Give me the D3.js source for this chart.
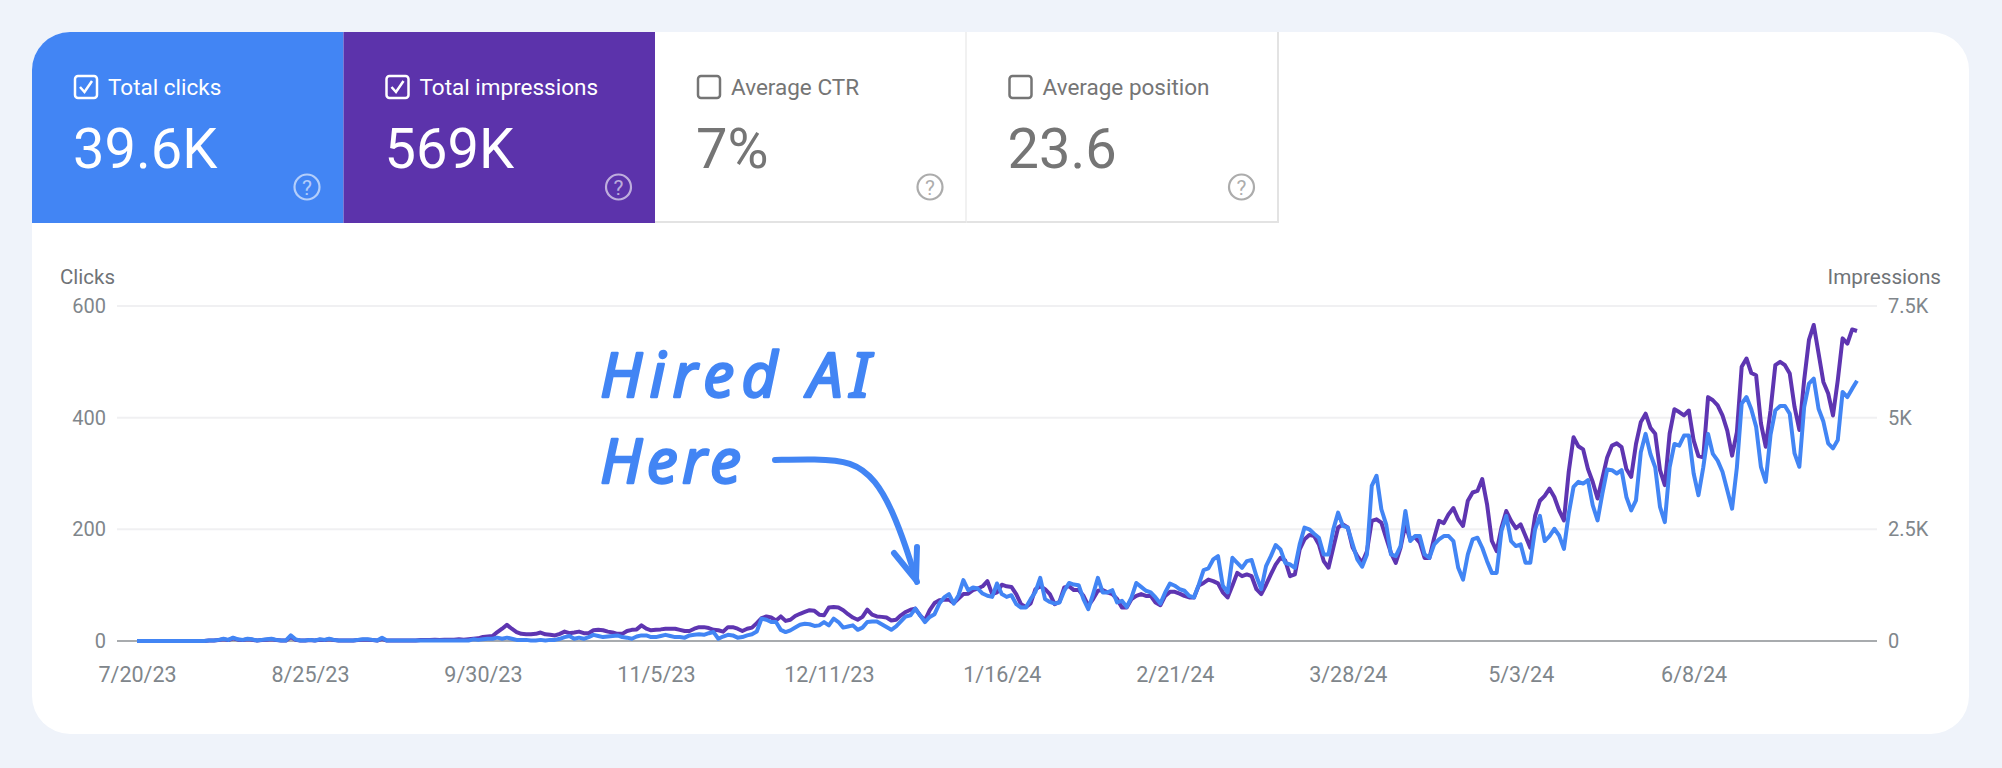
<!DOCTYPE html>
<html>
<head>
<meta charset="utf-8">
<script src="https://cdn.jsdelivr.net/npm/d3@7"></script>
<style>
  html, body { margin: 0; padding: 0; background: #eff3fa; }
  svg { display: block; font-family: Roboto, sans-serif; }
</style>
</head>
<body>
<svg id="chart" width="2002" height="768"></svg>
<script>
const tileLabels = ['Total clicks', 'Total impressions', 'Average CTR', 'Average position'];
const tileValues = ['39.6K', '569K', '7%', '23.6'];
const tileFills = ['#4285f4', '#5c33ab', '#ffffff', '#ffffff'];
const tileChecked = [true, true, false, false];

const startDate = '7/20/23';
const dateLabels = ['7/20/23', '8/25/23', '9/30/23', '11/5/23', '12/11/23', '1/16/24', '2/21/24', '3/28/24', '5/3/24', '6/8/24'];
const clickTicks = [0, 200, 400, 600];
const impressionTicks = [0, 2500, 5000, 7500];
const impressionTickLabels = ['0', '2.5K', '5K', '7.5K'];

// one value per day, ten to a row
const clicks = [
  0, 0, 0, 0, 0, 0, 0, 0, 0, 0,
  0, 0, 0, 0, 0, 1, 1, 2, 4, 2,
  6, 3, 2, 4, 3, 1, 2, 3, 4, 2,
  1, 1, 10, 3, 1, 1, 2, 1, 3, 2,
  4, 2, 1, 1, 1, 1, 2, 3, 3, 2,
  1, 6, 1, 1, 1, 1, 1, 1, 1, 1,
  1, 1, 1, 1, 1, 1, 1, 1, 1, 1,
  3, 2, 3, 4, 4, 6, 4, 6, 4, 2,
  2, 2, 1, 1, 2, 1, 2, 2, 4, 7,
  9, 4, 6, 4, 7, 11, 9, 7, 8, 9,
  10, 7, 6, 4, 8, 10, 10, 7, 7, 9,
  11, 9, 7, 7, 6, 10, 11, 12, 11, 14,
  16, 4, 8, 11, 10, 6, 7, 10, 12, 17,
  40, 38, 34, 34, 20, 16, 19, 24, 29, 31,
  30, 27, 28, 34, 28, 40, 34, 24, 26, 28,
  20, 24, 34, 35, 35, 30, 25, 20, 26, 35,
  44, 46, 58, 46, 34, 43, 48, 67, 78, 84,
  67, 82, 109, 91, 96, 94, 85, 81, 79, 103,
  84, 79, 82, 66, 60, 60, 75, 88, 113, 75,
  70, 67, 69, 90, 104, 101, 100, 75, 57, 84,
  113, 87, 87, 91, 69, 72, 61, 78, 104, 97,
  90, 87, 78, 67, 87, 103, 99, 93, 90, 81,
  78, 101, 127, 130, 146, 152, 99, 87, 149, 140,
  131, 143, 145, 116, 93, 134, 152, 172, 164, 140,
  137, 131, 173, 203, 200, 192, 185, 155, 155, 200,
  230, 206, 203, 174, 146, 133, 155, 278, 296, 236,
  209, 155, 152, 170, 233, 179, 188, 188, 155, 149,
  173, 182, 188, 188, 179, 131, 110, 155, 182, 185,
  167, 143, 122, 122, 197, 224, 179, 170, 173, 140,
  140, 200, 224, 179, 188, 201, 189, 165, 228, 276,
  285, 282, 288, 243, 216, 264, 307, 306, 300, 306,
  258, 234, 252, 338, 371, 335, 311, 240, 213, 311,
  353, 350, 368, 368, 300, 261, 311, 371, 335, 323,
  303, 270, 237, 311, 425, 437, 415, 384, 312, 285,
  369, 413, 421, 421, 407, 336, 312, 419, 461, 470,
  416, 393, 354, 345, 360, 446, 437, 452, 466
];
const impressions = [
  0, 0, 0, 0, 0, 0, 0, 0, 0, 0,
  0, 0, 0, 0, 0, 10, 10, 20, 40, 20,
  60, 30, 20, 40, 30, 10, 20, 30, 40, 20,
  10, 10, 90, 30, 10, 10, 20, 10, 30, 20,
  40, 20, 10, 10, 10, 10, 20, 30, 30, 20,
  10, 50, 10, 10, 10, 10, 10, 10, 10, 20,
  20, 20, 30, 20, 30, 30, 30, 40, 30, 40,
  50, 60, 90, 100, 110, 200, 275, 360, 275, 200,
  160, 150, 150, 160, 190, 150, 140, 125, 160, 210,
  175, 190, 210, 175, 175, 240, 250, 240, 210, 190,
  160, 160, 225, 250, 260, 350, 275, 240, 250, 260,
  275, 275, 275, 250, 225, 225, 275, 310, 310, 290,
  250, 240, 210, 310, 310, 275, 225, 275, 300, 400,
  510, 550, 525, 460, 550, 450, 475, 560, 610, 650,
  690, 675, 590, 575, 750, 760, 750, 690, 600, 525,
  475, 540, 700, 590, 550, 540, 525, 460, 475, 575,
  650, 700, 725, 575, 460, 690, 850, 910, 925, 925,
  850, 950, 1050, 1060, 1140, 1175, 1225, 1340, 1050, 1090,
  1260, 1225, 1210, 1050, 825, 760, 840, 1160, 1225, 1160,
  1050, 825, 875, 1200, 1225, 1140, 1140, 1010, 790, 940,
  1125, 1140, 1090, 1050, 940, 750, 750, 940, 1010, 1050,
  1010, 1010, 860, 800, 1010, 1100, 1100, 1060, 1010, 975,
  975, 1240, 1300, 1375, 1340, 1290, 1090, 975, 1240, 1525,
  1450, 1490, 1450, 1160, 1050, 1260, 1490, 1710, 1860, 1800,
  1450, 1490, 2050, 2275, 2375, 2350, 2160, 1790, 1640, 2090,
  2540, 2610, 2540, 2100, 1900, 1750, 2010, 2690, 2725, 2650,
  2310, 1975, 1750, 2090, 2610, 2275, 2325, 2200, 1860, 1860,
  2310, 2690, 2640, 2840, 2975, 2725, 2575, 3140, 3325, 3360,
  3625, 3060, 2240, 2010, 2540, 2910, 2690, 2525, 2610, 2350,
  2090, 2800, 3140, 3250, 3410, 3225, 2925, 2700, 3790, 4560,
  4360, 4290, 3850, 3560, 3190, 3640, 4110, 4375, 4425, 4340,
  3850, 3675, 4410, 4900, 5090, 4775, 4640, 3825, 3490, 4640,
  5190, 5125, 5050, 5160, 4490, 4140, 4110, 5460, 5390, 5275,
  5050, 4710, 4150, 4675, 6140, 6325, 6000, 5950, 4875, 4350,
  5160, 6175, 6250, 6175, 5990, 5240, 4725, 5840, 6740, 7075,
  6440, 5800, 5540, 5050, 5840, 6775, 6660, 6975, 6940
];

const blue = '#4285f4';
const purple = '#5e35b1';
const grey = '#80868b';

const svg = d3.select('#chart');
const parseDate = d3.utcParse('%m/%d/%y');
const start = parseDate(startDate);
const dates = clicks.map((d, i) => d3.utcDay.offset(start, i));

const x = d3.scaleUtc().domain([start, dates[dates.length - 1]]).range([137, 1857]);
const yClicks = d3.scaleLinear().domain([0, 600]).range([641, 306]);
const yImpressions = d3.scaleLinear().domain([0, 7500]).range([641, 306]);

// card
svg.append('clipPath').attr('id', 'card-clip')
  .append('rect').attr('x', 32).attr('y', 32).attr('width', 1937).attr('height', 702).attr('rx', 38);
svg.append('rect').attr('x', 32).attr('y', 32).attr('width', 1937).attr('height', 702)
  .attr('rx', 38).attr('fill', '#fff');

// metric tiles
const tileWidth = 311.5;
const tile = svg.append('g').attr('clip-path', 'url(#card-clip)')
  .selectAll('g').data(tileLabels).enter().append('g')
  .attr('transform', (d, i) => `translate(${32 + i * tileWidth},32)`);

tile.append('rect')
  .attr('width', tileWidth).attr('height', 191)
  .attr('fill', (d, i) => tileFills[i]);
tile.filter((d, i) => !tileChecked[i]).append('path')
  .attr('d', `M${tileWidth} 0 V190 H0`)
  .attr('fill', 'none').attr('stroke', '#e3e3e3').attr('stroke-width', 2);

const tileColor = i => tileChecked[i] ? '#fff' : '#757575';

tile.append('rect')
  .attr('x', 43).attr('y', 44).attr('width', 22).attr('height', 22).attr('rx', 3)
  .attr('fill', 'none').attr('stroke', (d, i) => tileColor(i)).attr('stroke-width', 2.5);
tile.filter((d, i) => tileChecked[i]).append('path')
  .attr('d', 'M48 55 L52.5 60 L60 49')
  .attr('fill', 'none').attr('stroke', '#fff').attr('stroke-width', 2.5);

tile.append('text')
  .attr('x', 76).attr('y', 63)
  .attr('font-size', 22.5).attr('fill', (d, i) => tileColor(i))
  .text(d => d);
tile.append('text')
  .attr('x', 41).attr('y', 136)
  .attr('font-size', 56).attr('fill', (d, i) => tileColor(i))
  .text((d, i) => tileValues[i]);

tile.append('circle')
  .attr('cx', 275).attr('cy', 155).attr('r', 12.5)
  .attr('fill', 'none').attr('stroke', (d, i) => tileColor(i))
  .attr('stroke-opacity', 0.6).attr('stroke-width', 2.2);
tile.append('text')
  .attr('x', 275).attr('y', 162.5).attr('text-anchor', 'middle')
  .attr('font-size', 21).attr('fill', (d, i) => tileColor(i)).attr('fill-opacity', 0.6)
  .text('?');

// axes
const styleAxis = (g, size) => {
  g.select('.domain').remove();
  g.selectAll('text').attr('font-size', size).attr('fill', grey).attr('font-family', 'Roboto, sans-serif');
};

svg.append('g')
  .selectAll('line').data(clickTicks.slice(1)).enter().append('line')
  .attr('x1', 117).attr('x2', 1877)
  .attr('y1', yClicks).attr('y2', yClicks)
  .attr('stroke', '#f0f0f2').attr('stroke-width', 2);
svg.append('line')
  .attr('x1', 117).attr('x2', 1877)
  .attr('y1', yClicks(0)).attr('y2', yClicks(0))
  .attr('stroke', '#a8abae').attr('stroke-width', 2);

svg.append('g').attr('transform', 'translate(117,0)')
  .call(d3.axisLeft(yClicks).tickValues(clickTicks).tickSize(0).tickPadding(11))
  .call(styleAxis, 20);
svg.append('g').attr('transform', 'translate(1877,0)')
  .call(d3.axisRight(yImpressions).tickValues(impressionTicks).tickSize(0).tickPadding(11)
    .tickFormat((d, i) => impressionTickLabels[i]))
  .call(styleAxis, 20);
svg.append('g').attr('transform', 'translate(0,641)')
  .call(d3.axisBottom(x).tickValues(dateLabels.map(parseDate)).tickSize(0).tickPadding(26)
    .tickFormat((d, i) => dateLabels[i]))
  .call(styleAxis, 21.5);

svg.append('text').attr('x', 60).attr('y', 284)
  .attr('font-size', 20.5).attr('fill', '#6f7377').text('Clicks');
svg.append('text').attr('x', 1941).attr('y', 284).attr('text-anchor', 'end')
  .attr('font-size', 20.7).attr('fill', '#6f7377').text('Impressions');

// series, clicks drawn on top
const impressionLine = d3.line().x((d, i) => x(dates[i])).y(d => yImpressions(d));
const clickLine = d3.line().x((d, i) => x(dates[i])).y(d => yClicks(d));

svg.append('path').attr('d', impressionLine(impressions))
  .attr('fill', 'none').attr('stroke', purple).attr('stroke-width', 4).attr('stroke-linejoin', 'round');
svg.append('path').attr('d', clickLine(clicks))
  .attr('fill', 'none').attr('stroke', blue).attr('stroke-width', 4).attr('stroke-linejoin', 'round');

// hand written note
const note = svg.append('g')
  .attr('font-family', '"Noto Sans", sans-serif').attr('font-size', 62)
  .attr('fill', blue).attr('stroke', blue).attr('stroke-width', 2.5)
  .attr('stroke-linejoin', 'round').attr('font-style', 'italic');
note.append('text').attr('x', 600).attr('y', 397).attr('textLength', 270).text('Hired AI');
note.append('text').attr('x', 600).attr('y', 483).attr('textLength', 141).text('Here');

const arrow = d3.line().curve(d3.curveBasis);
svg.append('path')
  .attr('d', arrow([[775, 460], [775, 460], [815, 459], [852, 461], [876, 480], [893, 512], [906, 547], [917, 582], [917, 582]]))
  .attr('fill', 'none').attr('stroke', blue).attr('stroke-width', 6).attr('stroke-linecap', 'round');
svg.append('path')
  .attr('d', 'M894 553 L916 580 L917 547')
  .attr('fill', 'none').attr('stroke', blue).attr('stroke-width', 6)
  .attr('stroke-linecap', 'round').attr('stroke-linejoin', 'round');
</script>
</body>
</html>
